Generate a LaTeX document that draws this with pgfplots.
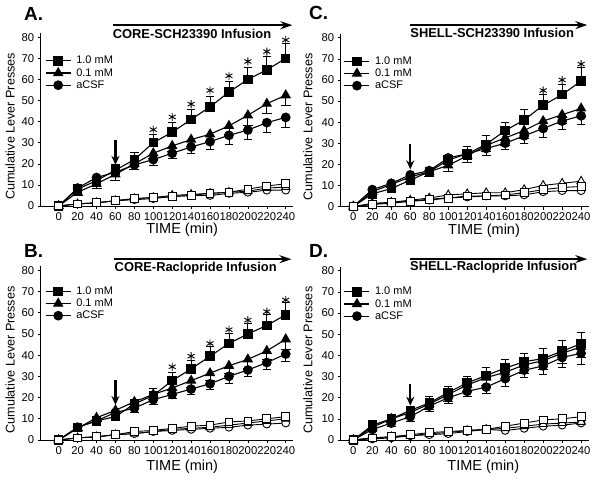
\documentclass[border=0pt]{standalone}
\usepackage{fontspec}
\setmainfont{Liberation Sans}
\usepackage{pgfplots}
\usepackage{pgfplotstable}
\pgfplotsset{compat=1.18}
\usetikzlibrary{arrows.meta}

% t, filled (sq, tr, ci) with error, open (osq, otr, oci), asterisk height
\pgfplotstableread{
t sq sqe tr tre ci cie osq otr oci ast
0 0 0 0 0 0 0 0 0 0 nan
20 8 1 6.5 1.5 8.5 1 1 1 1 nan
40 12 1.5 10.5 2 13.5 1.5 1.5 1.5 1.5 nan
60 17 3 15 3 16 2 2.5 2.5 2.5 nan
80 22 3.5 20 2.5 19.5 2 3.5 3.5 3 nan
100 30 4 25 2.5 22 2.5 4 4 3.5 36.2
120 35 4.5 28.5 2.5 25 2.5 4.5 5 4.5 42.2
140 41 5 31.5 3 28 3 5 5.5 5 48.3
160 47 5 34 3.5 30.5 3.5 6 6 5 54.8
180 54 5 38 4 33.5 4 6.5 6.5 6 61.7
200 60 6 43 4.5 36 4.5 8 7 6.5 68.5
220 64.5 6.5 48.5 4.5 39.5 4.5 9.5 8.5 7.5 73.2
240 70 7 52.5 4.5 42 4.5 10.5 9 7.5 78.7
}\dataA
\pgfplotstableread{
t sq sqe tr tre ci cie osq otr oci ast
0 0 0 0 0 0 0 0 0 0 nan
20 6 1 5.5 1 6 1 1 1 1 nan
40 9 1 10.5 1.5 9 1.5 1.5 1.5 1.5 nan
60 11 1.5 14 2 13 2 2.5 2.5 2.5 nan
80 17 2 18 2 15 2 4 3 3 nan
100 21 3.5 21.5 2.5 19 2 4.5 4 4 nan
120 28 4 24.5 2.5 21.5 2 5.5 5 4.5 34.5
140 33.5 4 28 3 24 2.5 6.5 5.5 5 39.5
160 39.5 4.5 31.5 3.5 26.5 2.5 7 6 5.5 45.5
180 45.5 5 35 3.5 30 3 8.5 7 6 52
200 50 5 38 4 33 3 9 8 7 56.5
220 54 5.5 42 4 36.5 3 10 9 7.5 60.5
240 59 6 47.5 4.5 40.5 3.5 11 10 8 66
}\dataB
\pgfplotstableread{
t sq sqe tr tre ci cie osq otr oci ast
0 0 0 0 0 0 0 0 0 0 nan
20 6 1 7 1 8 1 1 1.5 1 nan
40 8.5 1.5 10.5 1.5 11 1.5 2 2 1.5 nan
60 12.5 2 14 2 15 2 2.5 3 2.5 nan
80 16.5 2 16.5 2 17 2 3.5 4 3 nan
100 22 2.5 19.5 3 23 2 4 5.5 4 nan
120 25 3.5 24 3 25 2.5 5 6 4.5 nan
140 29.5 4.5 29 3 27.5 3 5 6.5 5 nan
160 36 4 32.5 3.5 30 3 5.5 6.5 5 nan
180 41 5 36 3.5 33.5 3.5 6.5 8 5.5 nan
200 48 5 40.5 3.5 37 4 8 10 7 55
220 53 5 43.5 4 40.5 4 9 11 7.5 60
240 59.5 6.5 46.5 4 43 4 9.5 12 7.5 67.5
}\dataC
\pgfplotstableread{
t sq sqe tr tre ci cie osq otr oci ast
0 0 0 0 0 0 0 0 0 0 nan
20 7 1 6 1 5 1 1 1 0.5 nan
40 10 1.5 10 1.5 8 1.5 1.5 1.5 1 nan
60 14 2 13 2 11 2 2.5 2 2 nan
80 17.5 3 17 2.5 16 2.5 3.5 3 2.5 nan
100 22.5 3 21.5 3 20 2.5 4 3.5 3 nan
120 27 3 26 3 23 2.5 4.5 4.5 4 nan
140 30.5 4 29.5 3.5 25 3 5 5 5 nan
160 34 4 32 3.5 29 3.5 6.5 5.5 4.5 nan
180 37 4 35.5 4 33 3.5 8 6.5 5.5 nan
200 38.5 5 37.5 4 35 4 9.5 7.5 6.5 nan
220 42 5 41 4.5 39 4.5 10 8 7 nan
240 45.5 5.5 44 5 41 5 11 8.5 8 nan
}\dataD

\pgfplotsset{
  panel/.style={
    scale only axis, clip=false,
    axis lines=left, axis line style={-, line width=0.8pt},
    ymin=0, ymax=82,
    xtick={0,20,...,240}, ytick={0,10,...,80},
    tick align=outside, major tick length=3pt,
    tick style={black, line width=0.6pt},
    ticklabel style={font=\fontsize{11.3}{13}\selectfont},
    /pgf/number format/assume math mode=true,
    xlabel={TIME (min)}, ylabel={Cumulative Lever Presses},
    xlabel style={font=\fontsize{14.5}{17}\selectfont},
    ylabel style={font=\fontsize{12.6}{15}\selectfont},
    legend cell align=left,
    legend style={draw=none, fill=none, font=\fontsize{11}{13}\selectfont,
      anchor=north west, row sep=-1pt, column sep=3pt},
    legend image code/.code={\draw[mark repeat=2, mark phase=2]
      plot coordinates {(0pt,0pt) (12.5pt,0pt) (25pt,0pt)};},
  },
  act/.style={black, line width=1.1pt, mark options={solid, fill=black},
    error bars/y explicit, error bars/error mark=-,
    error bars/error bar style={line width=0.8pt}},
  ina/.style={black, line width=0.9pt, mark options={solid, fill=white},
    mark size=3.9pt, forget plot},
  star/.style={only marks, mark=asterisk, mark size=4pt,
    mark options={line width=0.9pt}, forget plot},
}
\newcommand{\series}[1]{%
  \addplot[act, mark=square*, mark size=4.2pt, error bars/y dir=plus]
    table[x=t, y=sq, y error=sqe] {#1};
  \addlegendentry{1.0 mM}
  \addplot[act, mark=triangle*, mark size=5pt, error bars/y dir=minus]
    table[x=t, y=tr, y error=tre] {#1};
  \addlegendentry{0.1 mM}
  \addplot[act, mark=*, mark size=4.3pt, error bars/y dir=minus]
    table[x=t, y=ci, y error=cie] {#1};
  \addlegendentry{aCSF}
  \addplot[ina, mark=*] table[x=t, y=oci] {#1};
  \addplot[ina, mark=triangle*, mark size=4.8pt] table[x=t, y=otr] {#1};
  \addplot[ina, mark=square*] table[x=t, y=osq] {#1};
  \addplot[star] table[x=t, y=ast] {#1};
}
\newcommand{\infusion}[5]{% x start, arrow y, text y, x end, text
  \draw[line width=1.7pt, -{Stealth[length=12pt, width=8pt]}]
    (axis cs:#1,#2) -- (axis cs:#4,#2);
  \node[anchor=west, inner sep=0pt, font=\fontsize{12.9}{15}\selectfont\bfseries]
    at (axis cs:#1,#3) {#5};
}
\newcommand{\drop}[2]{%
  \draw[line width=2.4pt, -{Stealth[length=9pt, width=8pt]}]
    (axis cs:60,#1) -- (axis cs:60,#2);
}

\begin{document}
\begin{tikzpicture}
% A
\begin{axis}[panel, at={(40.7pt,-206pt)}, anchor=south west,
  width=252.6pt, height=173pt, xmin=-19, xmax=248,
  ylabel style={at={(axis description cs:-0.121,0.46)}, anchor=center},
  xlabel style={at={(axis description cs:0.56,0)}, anchor=center, yshift=-24pt},
  legend style={at={(axis description cs:0.005,0.89)}}]
\series{\dataA}
\infusion{57}{85.7}{81.5}{247}{CORE-SCH23390 Infusion}
\drop{31.5}{19.5}
\end{axis}
% B
\begin{axis}[panel, at={(40.7pt,-440pt)}, anchor=south west,
  width=252.6pt, height=174pt, xmin=-19, xmax=248,
  ylabel style={at={(axis description cs:-0.121,0.46)}, anchor=center},
  xlabel style={at={(axis description cs:0.56,0)}, anchor=center, yshift=-27pt},
  legend style={at={(axis description cs:0.005,0.905)}}]
\series{\dataB}
\infusion{59}{85.2}{81}{246}{CORE-Raclopride Infusion}
\drop{28.2}{16.5}
\end{axis}
% C
\begin{axis}[panel, at={(340.7pt,-206.5pt)}, anchor=south west,
  width=248pt, height=173pt, xmin=-13.3, xmax=248,
  ylabel style={at={(axis description cs:-0.132,0.46)}, anchor=center},
  xlabel style={at={(axis description cs:0.578,0)}, anchor=center, yshift=-24pt},
  legend style={at={(axis description cs:0.0,0.89)}}]
\series{\dataC}
\infusion{60}{86}{82.2}{246.5}{SHELL-SCH23390 Infusion}
\drop{29.6}{17.6}
\end{axis}
% D
\begin{axis}[panel, at={(340.7pt,-440pt)}, anchor=south west,
  width=248pt, height=173.5pt, xmin=-13.3, xmax=248,
  ylabel style={at={(axis description cs:-0.132,0.46)}, anchor=center},
  xlabel style={at={(axis description cs:0.575,0)}, anchor=center, yshift=-27pt},
  legend style={at={(axis description cs:0.0,0.905)}}]
\series{\dataD}
\infusion{59.7}{85.5}{81.9}{246.5}{SHELL-Raclopride Infusion}
\drop{26.7}{16.2}
\end{axis}
\begin{scope}[every node/.style={anchor=west, inner sep=0pt,
    font=\fontsize{19}{19}\selectfont\bfseries}]
\node at (24pt,-13.5pt) {A.};
\node at (24pt,-251pt) {B.};
\node at (309pt,-12.5pt) {C.};
\node at (309pt,-251pt) {D.};
\end{scope}
\pgfresetboundingbox
\useasboundingbox (0,0) rectangle (600pt,-481pt);
\end{tikzpicture}
\end{document}
